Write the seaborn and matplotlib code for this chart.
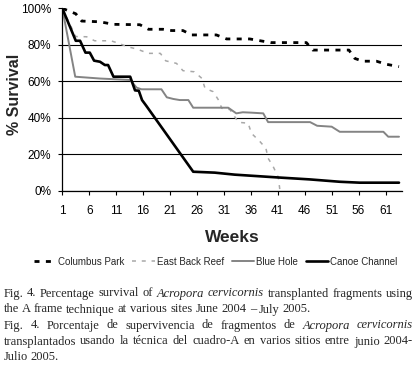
import numpy as np
import matplotlib
matplotlib.use('Agg')
import matplotlib.pyplot as plt
import pandas as pd
import seaborn as sns

# values (week, % survival)
sites = ['Columbus Park', 'East Back Reef', 'Blue Hole', 'Canoe Channel']

columbus_weeks = [1, 3.5, 4.6, 8, 10.5, 15.4, 17, 19.7, 21.3, 23.4, 25, 29.6, 31.5, 35.8,
                  39.7, 46.3, 47.5, 54.2, 55.3, 56.8, 59.3, 61.2, 63.5]
columbus_surv = [100, 97, 93, 92.6, 91.2, 91, 88.5, 88.5, 87.8, 87.8, 85.4, 85.4, 83.2, 83.2,
                 81.2, 81.2, 77.1, 77.1, 72.5, 71, 71, 69.3, 68]

eastback_weeks = [1, 3.5, 5.5, 7, 10, 11.5, 13, 14.8, 17, 19.2, 20.2, 22.2, 23.4, 25.5, 26.9,
                  27.5, 29, 30, 30.6, 32.1, 33.7, 35.5, 36.1, 37.7, 38.8, 39.2, 40.1, 41.1, 41.4]
eastback_surv = [100, 84.5, 84.4, 82.2, 82.2, 80.8, 79, 77.7, 75.3, 75.3, 71.2, 69.8, 65.8, 65.2,
                 61.6, 56.1, 54.3, 49.7, 45.2, 44.5, 37.5, 37, 31.5, 26.9, 23.2, 17.8, 13.5, 7.3, 0]

bluehole_weeks = [1, 3.4, 8, 13.6, 14.8, 15.7, 19.4, 20.4, 21.6, 22.8, 24.4, 25.3, 31.8, 33.3,
                  34.5, 36, 38.3, 39.2, 47, 48.3, 51, 52.5, 60.6, 61.5, 63.5]
bluehole_surv = [100, 62.5, 61.5, 60.7, 56.5, 55.6, 55.6, 51.2, 50.3, 49.7, 49.7, 45.5, 45.5, 42.4,
                 43, 42.8, 42.4, 37.6, 37.6, 35.6, 35.1, 32.3, 32.3, 29.6, 29.6]

canoe_weeks = [1, 3.5, 4.3, 5.3, 6.1, 6.9, 8, 8.9, 9.5, 10.5, 13.6, 14.5, 15.2, 15.8, 16.6,
               25.3, 29.3, 33, 40.8, 46.9, 52.5, 56.2, 63.5]
canoe_surv = [100, 82.2, 82.2, 75.7, 75.7, 71.3, 70.7, 68.9, 68.9, 62.5, 62.5, 55, 54.8, 49.7, 46.5,
              10.4, 9.9, 8.8, 7.3, 6.2, 4.9, 4.4, 4.4]

week_ticks = [1, 6, 11, 16, 21, 26, 31, 36, 41, 46, 51, 56, 61]

caption = [
    ('Fig. 4. Percentage survival of *Acropora *cervicornis transplanted fragments using', True),
    ('the A frame technique at various sites June 2004 \u2013 July 2005.', False),
    ('Fig. 4. Porcentaje de supervivencia de fragmentos de *Acropora *cervicornis', True),
    ('transplantados usando la t\u00e9cnica del cuadro-A en varios sitios entre junio 2004-', True),
    ('Julio 2005.', False),
]

frames = []
for name, w, s in zip(sites, [columbus_weeks, eastback_weeks, bluehole_weeks, canoe_weeks],
                      [columbus_surv, eastback_surv, bluehole_surv, canoe_surv]):
    frames.append(pd.DataFrame({'week': w, 'survival': s, 'site': name}))
df = pd.concat(frames, ignore_index=True)

sns.set_style('ticks')
plt.rcParams['font.family'] = ['Liberation Sans', 'DejaVu Sans']

W, H = 418, 365
fig = plt.figure(figsize=(W / 100, H / 100), dpi=100)
ax = fig.add_axes([62.3 / W, 1 - 190.7 / H, 339.4 / W, 182.4 / H])

palette = {'Columbus Park': '#000000', 'East Back Reef': '#a8a8a8',
           'Blue Hole': '#848484', 'Canoe Channel': '#000000'}
dashes = {'Columbus Park': (1.8, 2.3), 'East Back Reef': (2.6, 3.8),
          'Blue Hole': '', 'Canoe Channel': ''}
sizes = {'Columbus Park': 2.0, 'East Back Reef': 1.1,
         'Blue Hole': 1.4, 'Canoe Channel': 1.9}

sns.lineplot(data=df, x='week', y='survival', hue='site', style='site', size='site',
             hue_order=sites, style_order=sites, size_order=sites,
             palette=palette, dashes=dashes, sizes=sizes,
             estimator=None, sort=False, legend=False, ax=ax)

ax.set_xlim(1, 64)
ax.set_ylim(0, 100)
ax.set_xticks(week_ticks)
ax.set_xticklabels([str(w) for w in week_ticks], fontsize=8.5)
ax.set_yticks([0, 20, 40, 60, 80, 100])
ax.set_yticklabels(['0%', '20%', '40%', '60%', '80%', '100%'], fontsize=8.5)
ax.tick_params(axis='x', direction='out', length=3, width=0.8, pad=7, colors='black')
ax.tick_params(axis='y', direction='out', length=3, width=0.8, pad=5, colors='black')

ax.yaxis.grid(True, color='black', linewidth=0.8)
ax.get_ygridlines()[-1].set_visible(False)
ax.set_axisbelow(True)

for side in ['top', 'right']:
    ax.spines[side].set_visible(False)
for side in ['left', 'bottom']:
    ax.spines[side].set_color('black')
    ax.spines[side].set_linewidth(0.9)

ax.set_xlabel('Weeks', fontsize=12.5, fontweight='bold')
ax.xaxis.set_label_coords(0.5, (190.7 - 237.5) / 182.4)
ax.xaxis.label.set_va('center')
ax.set_ylabel('% Survival', fontsize=11.5, fontweight='bold')
ax.yaxis.set_label_coords((15 - 62.3) / 339.4, 0.53)
ax.yaxis.label.set_va('center')

handles = ax.get_lines()[:4]
fig.legend(handles, sites, loc='center', bbox_to_anchor=(215.5 / W, 1 - 261.7 / H),
           ncol=4, frameon=False, fontsize=7, handlelength=2.3, handletextpad=0.2,
           columnspacing=0.8, borderpad=0, borderaxespad=0)

# justified caption under the chart
renderer = fig.canvas.get_renderer()
cap_size = 9.0
space_px = 0.25 * cap_size * 100 / 72
x_left, x_right = 3.5, 413.0
base_y = 296.5
for i, (line, justify) in enumerate(caption):
    y = 1 - (base_y + i * 16.0) / H
    texts = []
    for word in line.split(' '):
        italic = word.startswith('*')
        word = word.lstrip('*')
        t = fig.text(0, y, word, fontsize=cap_size, family=['Liberation Serif'],
                     style='italic' if italic else 'normal', va='baseline', ha='left')
        texts.append(t)
    widths = [t.get_window_extent(renderer).width for t in texts]
    if justify and len(texts) > 1:
        gap = (x_right - x_left - sum(widths)) / (len(texts) - 1)
    else:
        gap = space_px
    x = x_left
    for t, w in zip(texts, widths):
        t.set_x(x / W)
        x += w + gap

fig.savefig('out.png', dpi=100)
